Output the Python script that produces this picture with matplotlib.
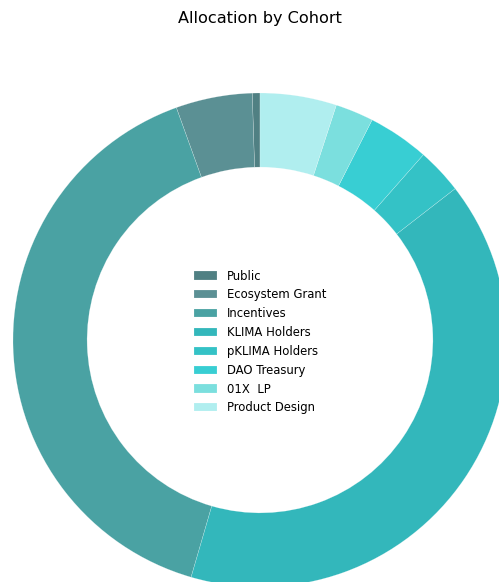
import matplotlib
matplotlib.use('Agg')
import matplotlib.pyplot as plt

# allocation shares (percent)
cohorts = ['Public', 'Ecosystem Grant', 'Incentives', 'KLIMA Holders',
           'pKLIMA Holders', 'DAO Treasury', '01X  LP', 'Product Design']
shares = [0.5, 5, 40, 40, 3, 4, 2.5, 5]
colours = ['#508083', '#5b9094', '#4aa2a3', '#33b7bb',
           '#34c2c6', '#38ced3', '#7bdfde', '#b0eeef']

fig = plt.figure(figsize=(4.99, 5.82), dpi=100)

# pie centre at (260, 340) px, radius 247 px
W, H = 499.0, 582.0
r = 247.0
ax = fig.add_axes([(260 - r) / W, (H - 340 - r) / H, 2 * r / W, 2 * r / H])

wedges, _ = ax.pie(shares, colors=colours, startangle=90, counterclock=True,
                   radius=1.0, wedgeprops=dict(width=0.3, edgecolor=(1, 1, 1, 0.5),
                                               linewidth=0.25))
ax.set_xlim(-1, 1)
ax.set_ylim(-1, 1)
ax.set_aspect('equal')
ax.axis('off')

# legend sits in the hole, nudged down a couple of pixels
ax.legend(wedges, cohorts, loc='center', bbox_to_anchor=(0.5, 0.5 - 2 / (2 * r)),
          frameon=False, fontsize=8.4)

fig.text(260 / W, 1 - 18 / H, 'Allocation by Cohort', ha='center',
         va='center', fontsize=11.6)

fig.savefig('out.png', dpi=100)
